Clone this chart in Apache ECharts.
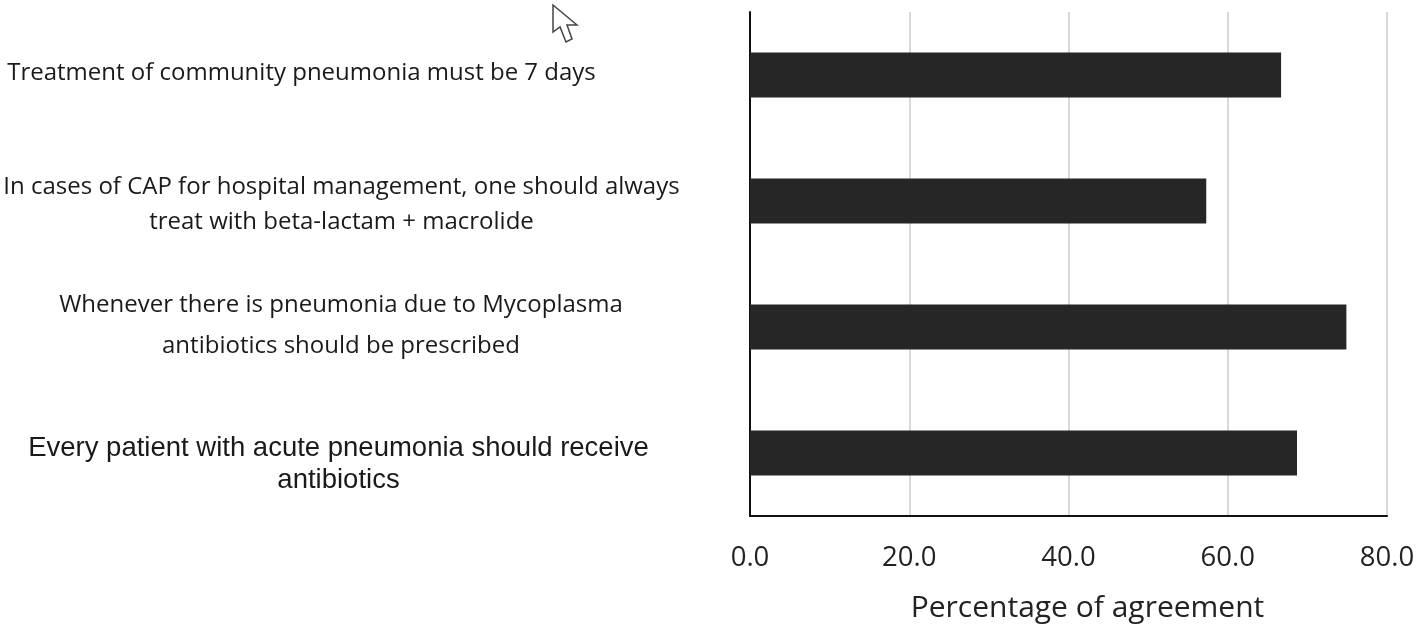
<!DOCTYPE html>
<html><head><meta charset="utf-8">
<style>html,body{margin:0;padding:0;background:#fff}#c{width:1418px;height:629px}</style>
<script src="https://cdn.jsdelivr.net/npm/echarts@6/dist/echarts.min.js"></script>
</head><body><div id="c"></div>
<script>
const categories = ["Treatment of community pneumonia must be 7 days",
 "In cases of CAP for hospital management, one should always\ntreat with beta-lactam + macrolide",
 "Whenever there is pneumonia due to Mycoplasma\nantibiotics should be prescribed",
 "Every patient with acute pneumonia should receive\nantibiotics"];
const values = [66.7, 57.3, 74.9, 68.7];
const axisTitle = "Percentage of agreement";
const labelStyles = [
 {x:301.5,y:73,f:'"Open Sans"',s:24,lh:35},
 {x:341.5,y:205,f:'"Open Sans"',s:24,lh:35},
 {x:341,y:326,f:'"Open Sans"',s:24,lh:41},
 {x:338.5,y:464,f:'"Liberation Sans"',s:27.5,lh:32}
];
const chart = echarts.init(document.getElementById('c'));
chart.setOption({
 animation:false,
 grid:{left:750,right:31,top:12,bottom:113,containLabel:false},
 xAxis:{type:'value',min:0,max:80,interval:20,
  name:axisTitle,nameLocation:'middle',nameGap:77,
  nameTextStyle:{fontFamily:'Open Sans',fontSize:30,color:'#222',padding:[0,0,0,38]},
  axisLine:{show:true,lineStyle:{color:'#111',width:2}},axisTick:{show:false},
  axisLabel:{formatter:v=>v.toFixed(1),margin:28,fontFamily:'Open Sans',fontSize:27.5,color:'#222'},
  splitLine:{show:true,lineStyle:{color:'#d9d9d9',width:2}}},
 yAxis:{type:'category',inverse:true,data:categories,
  axisLine:{show:true,lineStyle:{color:'#111',width:2}},axisTick:{show:false},axisLabel:{show:false}},
 series:[{type:'bar',data:values,barWidth:45,itemStyle:{color:'#262626'}}],
 graphic:categories.map((t,i)=>({type:'text',x:labelStyles[i].x,y:labelStyles[i].y,
  style:{text:t,align:'center',verticalAlign:'middle',fill:'#1a1a1a',
  font:labelStyles[i].s+'px '+labelStyles[i].f,lineHeight:labelStyles[i].lh}}))
 .concat([{type:'polygon',shape:{points:[[553,5],[553,32],[560,27],[566,42],[572,39],[567,25],[577,25]]},
  style:{fill:'#fff',stroke:'#444',lineWidth:1.5}}])
});
</script></body></html>
